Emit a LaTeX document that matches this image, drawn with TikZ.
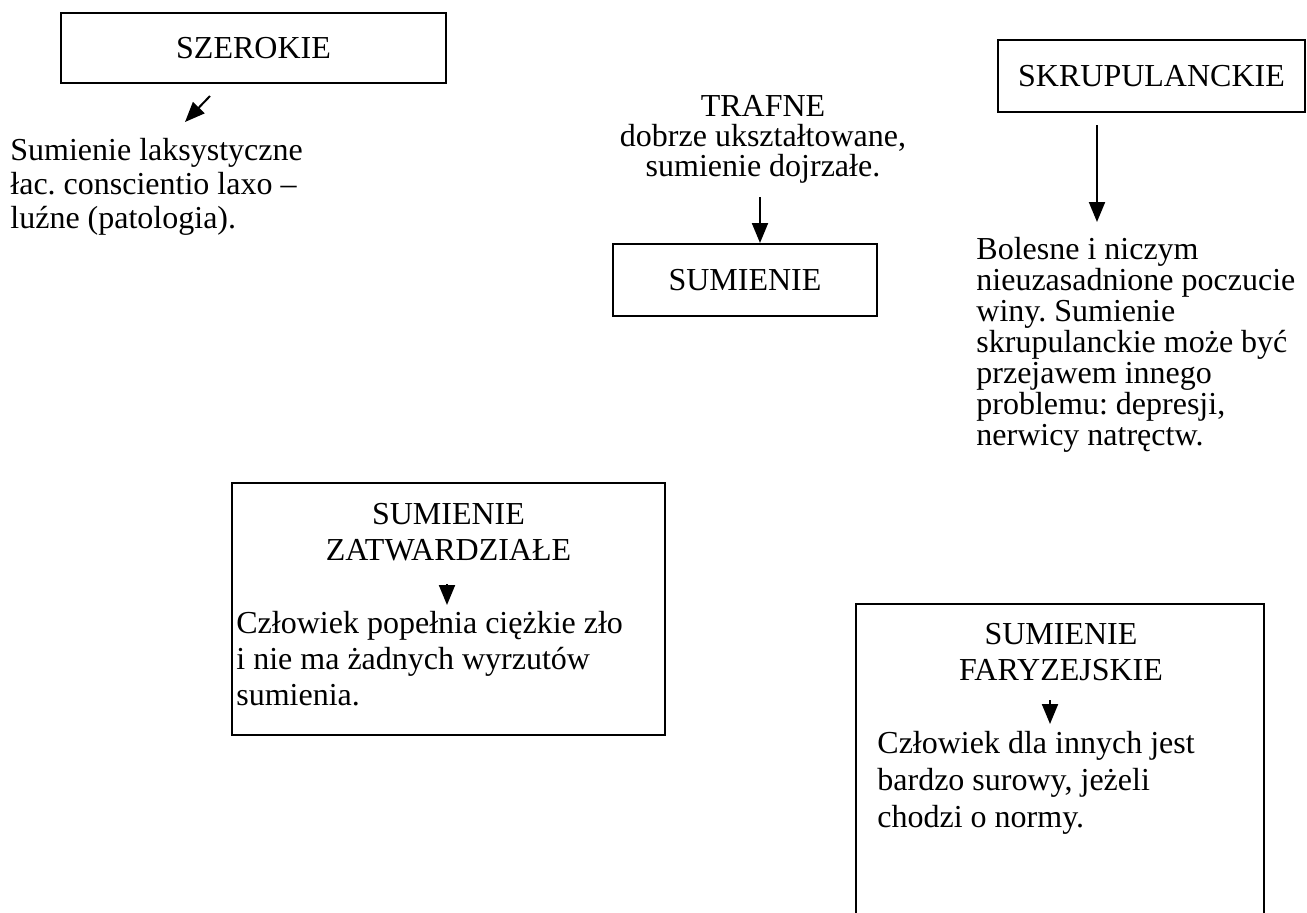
\documentclass[tikz,border=0pt]{standalone}
\usepackage{fontspec}
\setmainfont{Liberation Serif}
\usetikzlibrary{arrows.meta}
\frenchspacing

\tikzset{
	box/.style={draw, line width=1pt, inner sep=0pt},
	txt/.style={inner sep=0pt, align=left, anchor=base west},
	arr/.style={line width=1pt, -{Triangle[length=10pt,width=8pt]}},
}

\begin{document}
\begin{tikzpicture}[x=0.5pt,y=-0.5pt,font=\fontsize{16}{18}\selectfont]
	
	\useasboundingbox (0,0) rectangle (1307,912);
	\clip (0,0) rectangle (1307,912);
	
	% upper row (multi-line texts sit on the baseline of their last line)
	\node[box, minimum width=192.5pt, minimum height=35pt] (szerokie) at (253.5,48) {SZEROKIE};
	\node[box, minimum width=153.5pt, minimum height=36pt] (skrup) at (1151.5,76) {SKRUPULANCKIE};
	\node[box, minimum width=132pt, minimum height=36pt] (sumienie) at (745,280) {SUMIENIE};
	
	\node[txt, font=\fontsize{16}{17}\selectfont] (laxo) at (10,228)
		{Sumienie laksystyczne\\łac. conscientio laxo –\\luźne (patologia).};
	\node[txt, anchor=base, align=center, font=\fontsize{16}{15}\selectfont] (trafne) at (763,176)
		{TRAFNE\\dobrze ukształtowane,\\sumienie dojrzałe.};
	\node[txt, font=\fontsize{16}{15.5}\selectfont] (bolesne) at (976,445)
		{Bolesne i niczym\\nieuzasadnione poczucie\\winy. Sumienie\\skrupulanckie może być\\przejawem innego\\problemu: depresji,\\nerwicy natręctw.};
	
	\coordinate (szerArrTop) at (210,96);
	\coordinate (szerArrTip) at (185,122);
	\coordinate (trafArrTop) at (760,197);
	\coordinate (skrupArrTop) at (1097,125);
	\coordinate (skrupArrTip) at (1097,222);
	
	\draw[arr] (szerArrTop) -- (szerArrTip);
	\draw[arr] (trafArrTop) -- (trafArrTop |- sumienie.north);
	\draw[arr] (skrupArrTop) -- (skrupArrTip);
	
	% lower row
	\node[box, minimum width=216.5pt, minimum height=126pt] (zatw) at (448.5,609) {};
	\node[txt, anchor=base, align=center] (zatwtitle) at (448.5,560) {SUMIENIE\\ZATWARDZIAŁE};
	\node[txt] (zatwbody) at (236,705) {Człowiek popełnia ciężkie zło\\i nie ma żadnych wyrzutów\\sumienia.};
	\coordinate (zatwArrTop) at (447,584);
	\coordinate (zatwArrTip) at (447,605);
	\draw[arr] (zatwArrTop) -- (zatwArrTip);
	
	\node[box, minimum width=204pt, minimum height=178pt] (fary) at (1060,782) {};
	\node[txt, anchor=base, align=center] (farytitle) at (1061,680) {SUMIENIE\\FARYZEJSKIE};
	\node[txt, font=\fontsize{16}{18.5}\selectfont] (farybody) at (877,827) {Człowiek dla innych jest\\bardzo surowy, jeżeli\\chodzi o normy.};
	\coordinate (faryArrTop) at (1050,700);
	\coordinate (faryArrTip) at (1050,724);
	\draw[arr] (faryArrTop) -- (faryArrTip);
	
\end{tikzpicture}
\end{document}
